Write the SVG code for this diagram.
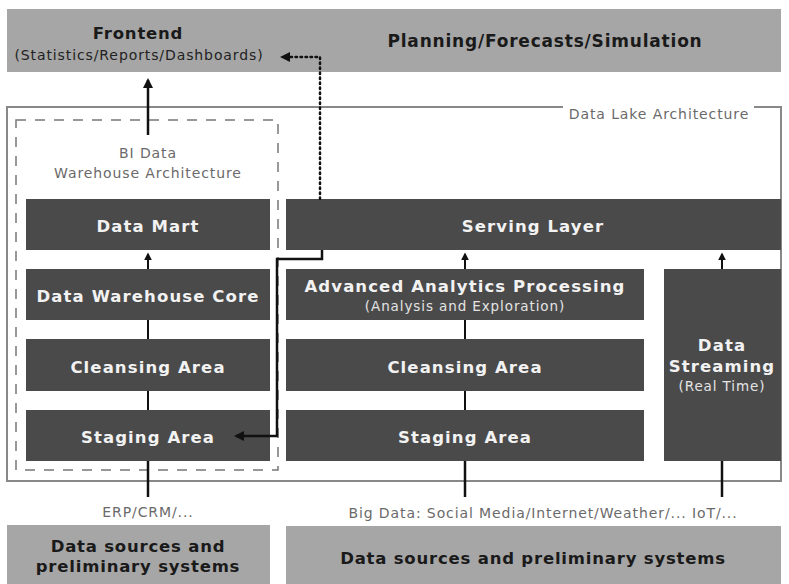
<svg xmlns="http://www.w3.org/2000/svg" width="789" height="584" viewBox="0 0 789 584">
<defs>
<style>
.band{fill:#a6a6a6}
.box{fill:#4a4a4a}
.t{font-family:"DejaVu Sans","Liberation Sans",sans-serif;text-anchor:middle}
.wb{fill:#f2f2f2;font-weight:bold;font-size:16.5px;letter-spacing:1.1px}
.ws{fill:#e4e4e4;font-size:13.5px;letter-spacing:0.9px}
.kb{fill:#1a1a1a;font-weight:bold;font-size:16.5px;letter-spacing:0.8px}
.ks{fill:#222;font-size:14px;letter-spacing:0.9px}
.g{fill:#6a6a6a;font-size:14px;letter-spacing:0.9px}
.ln{stroke:#111;stroke-width:2.5;fill:none}
.ln2{stroke:#111;stroke-width:2;fill:none}
</style>
<marker id="ah" viewBox="0 0 10 10" refX="8" refY="5" markerWidth="4" markerHeight="4" orient="auto-start-reverse" markerUnits="strokeWidth">
<path d="M0,0 L10,5 L0,10 z" fill="#111"/>
</marker>
</defs>
<rect width="789" height="584" fill="#ffffff"/>

<g id="top-band">
<rect class="band" x="7" y="9" width="774" height="63"/>
</g>
<g id="frontend">
<text class="t kb" x="138" y="39">Frontend</text>
<text class="t ks" x="139" y="60">(Statistics/Reports/Dashboards)</text>
</g>
<g id="planning">
<text class="t kb" x="545" y="47" style="font-size:17px">Planning/Forecasts/Simulation</text>
</g>

<g id="data-lake">
<path d="M563,107 H7 V481 H781 V107 H754" fill="none" stroke="#888" stroke-width="2"/>
<text class="t g" x="659" y="119">Data Lake Architecture</text>
</g>

<g id="bi-dw">
<rect x="16" y="120" width="262" height="350" fill="none" stroke="#777" stroke-width="1.5" stroke-dasharray="10,9"/>
<text class="t g" x="148" y="158">BI Data</text>
<text class="t g" x="148" y="178">Warehouse Architecture</text>
</g>

<g id="data-mart"><rect class="box" x="26" y="199" width="244" height="51"/><text class="t wb" x="148" y="232">Data Mart</text></g>
<g id="dw-core"><rect class="box" x="26" y="269" width="244" height="51"/><text class="t wb" x="148" y="302">Data Warehouse Core</text></g>
<g id="bi-cleansing"><rect class="box" x="26" y="339" width="244" height="52"/><text class="t wb" x="148" y="373">Cleansing Area</text></g>
<g id="bi-staging"><rect class="box" x="26" y="410" width="244" height="51"/><text class="t wb" x="148" y="443">Staging Area</text></g>

<g id="serving"><rect class="box" x="286" y="199" width="495" height="51"/><text class="t wb" x="533" y="232">Serving Layer</text></g>
<g id="analytics"><rect class="box" x="286" y="269" width="358" height="51"/><text class="t wb" x="465" y="292">Advanced Analytics Processing</text><text class="t ws" x="465" y="311">(Analysis and Exploration)</text></g>
<g id="dl-cleansing"><rect class="box" x="286" y="339" width="358" height="52"/><text class="t wb" x="465" y="373">Cleansing Area</text></g>
<g id="dl-staging"><rect class="box" x="286" y="410" width="358" height="51"/><text class="t wb" x="465" y="443">Staging Area</text></g>
<g id="streaming"><rect class="box" x="664" y="269" width="117" height="192"/><text class="t wb" x="722" y="351">Data</text><text class="t wb" x="722" y="372">Streaming</text><text class="t ws" x="722" y="391">(Real Time)</text></g>

<g id="src-left"><rect class="band" x="7" y="525" width="263" height="59"/><text class="t kb" x="138" y="552">Data sources and</text><text class="t kb" x="138" y="572">preliminary systems</text></g>
<g id="src-right"><rect class="band" x="286" y="526" width="495" height="58"/><text class="t kb" x="533" y="564">Data sources and preliminary systems</text></g>

<g id="source-labels">
<text class="t g" x="148" y="517">ERP/CRM/...</text>
<text class="t g" x="543" y="518">Big Data: Social Media/Internet/Weather/... IoT/...</text>
</g>

<g id="connectors">
<line class="ln" x1="148" y1="135" x2="148" y2="80" marker-end="url(#ah)"/>
<line class="ln2" x1="148" y1="269" x2="148" y2="254" marker-end="url(#ah)"/>
<line class="ln2" x1="148" y1="320" x2="148" y2="339"/>
<line class="ln2" x1="148" y1="391" x2="148" y2="410"/>
<line class="ln" x1="148" y1="461" x2="148" y2="497"/>
<line class="ln2" x1="465" y1="269" x2="465" y2="254" marker-end="url(#ah)"/>
<line class="ln2" x1="465" y1="320" x2="465" y2="339"/>
<line class="ln2" x1="465" y1="391" x2="465" y2="410"/>
<line class="ln" x1="465" y1="461" x2="465" y2="497"/>
<line class="ln2" x1="722" y1="269" x2="722" y2="254" marker-end="url(#ah)"/>
<line class="ln" x1="722" y1="461" x2="722" y2="497"/>
<path class="ln" d="M322,250 V259 H277 V436 H236" marker-end="url(#ah)"/>
<path d="M320,199 V57 H282" fill="none" stroke="#111" stroke-width="2.5" stroke-dasharray="1.5,3.5" stroke-linecap="round" marker-end="url(#ah)"/>
</g>
</svg>
